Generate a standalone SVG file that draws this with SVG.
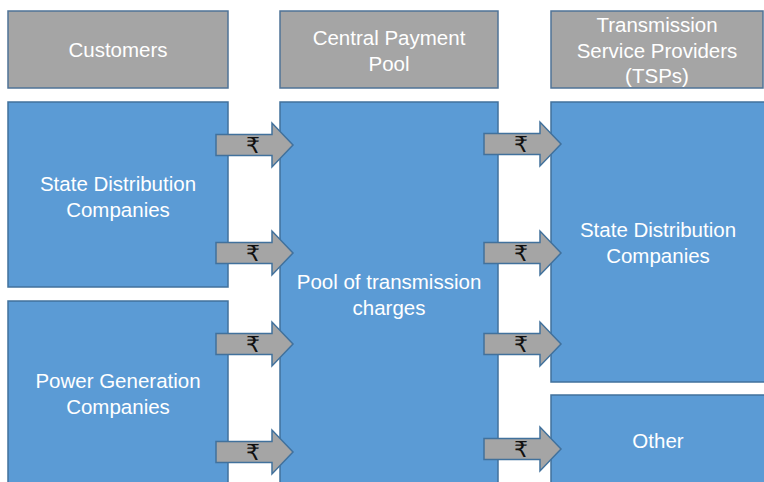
<svg xmlns="http://www.w3.org/2000/svg" width="764" height="482" viewBox="0 0 764 482">
<style>
.hdr{fill:#A5A5A5;stroke:#4F7397;stroke-width:1.5}
.box{fill:#5B9BD5;stroke:#41719C;stroke-width:1.5}
.t{font-family:"Liberation Sans",Arial,sans-serif;font-size:20.5px;fill:#FFFFFF;text-anchor:middle}
.arr{fill:#A5A5A5;stroke:#41719C;stroke-width:1.5}
.r{font-family:"DejaVu Sans","Noto Sans",sans-serif;font-size:22px;fill:#111111;text-anchor:middle}
</style>
<defs>
<path id="a" d="M0,-10.5 H56 V-22 L77,0 L56,22 V10.5 H0 Z"/>
</defs>
<rect width="764" height="482" fill="#FFFFFF"/>
<g id="hdr-customers"><rect class="hdr" x="8" y="11" width="220" height="77"/><text class="t" x="118" y="57">Customers</text></g>
<g id="hdr-pool"><rect class="hdr" x="280" y="11" width="218" height="77"/><text class="t" x="389" y="45">Central Payment</text><text class="t" x="389" y="71">Pool</text></g>
<g id="hdr-tsp"><rect class="hdr" x="551" y="11" width="212" height="77"/><text class="t" x="657" y="32">Transmission</text><text class="t" x="657" y="58">Service Providers</text><text class="t" x="657" y="83">(TSPs)</text></g>
<g id="state-dist-left"><rect class="box" x="8" y="102" width="220" height="185"/><text class="t" x="118" y="191">State Distribution</text><text class="t" x="118" y="217">Companies</text></g>
<g id="power-gen"><rect class="box" x="8" y="301" width="220" height="190"/><text class="t" x="118" y="388">Power Generation</text><text class="t" x="118" y="414">Companies</text></g>
<g id="pool"><rect class="box" x="280" y="102" width="218" height="390"/><text class="t" x="389" y="289">Pool of transmission</text><text class="t" x="389" y="315">charges</text></g>
<g id="state-dist-right"><rect class="box" x="551" y="102" width="220" height="280"/><text class="t" x="658" y="237">State Distribution</text><text class="t" x="658" y="263">Companies</text></g>
<g id="other"><rect class="box" x="551" y="395" width="220" height="100"/><text class="t" x="658" y="448">Other</text></g>
<g id="connectors">
<use href="#a" class="arr" transform="translate(216,145)"/><text class="r" x="253" y="153">₹</text>
<use href="#a" class="arr" transform="translate(216,253)"/><text class="r" x="253" y="261">₹</text>
<use href="#a" class="arr" transform="translate(216,344)"/><text class="r" x="253" y="352">₹</text>
<use href="#a" class="arr" transform="translate(216,452)"/><text class="r" x="253" y="460">₹</text>
<use href="#a" class="arr" transform="translate(484,144)"/><text class="r" x="521" y="152">₹</text>
<use href="#a" class="arr" transform="translate(484,253)"/><text class="r" x="521" y="261">₹</text>
<use href="#a" class="arr" transform="translate(484,344)"/><text class="r" x="521" y="352">₹</text>
<use href="#a" class="arr" transform="translate(484,449)"/><text class="r" x="521" y="457">₹</text>
</g>
</svg>
